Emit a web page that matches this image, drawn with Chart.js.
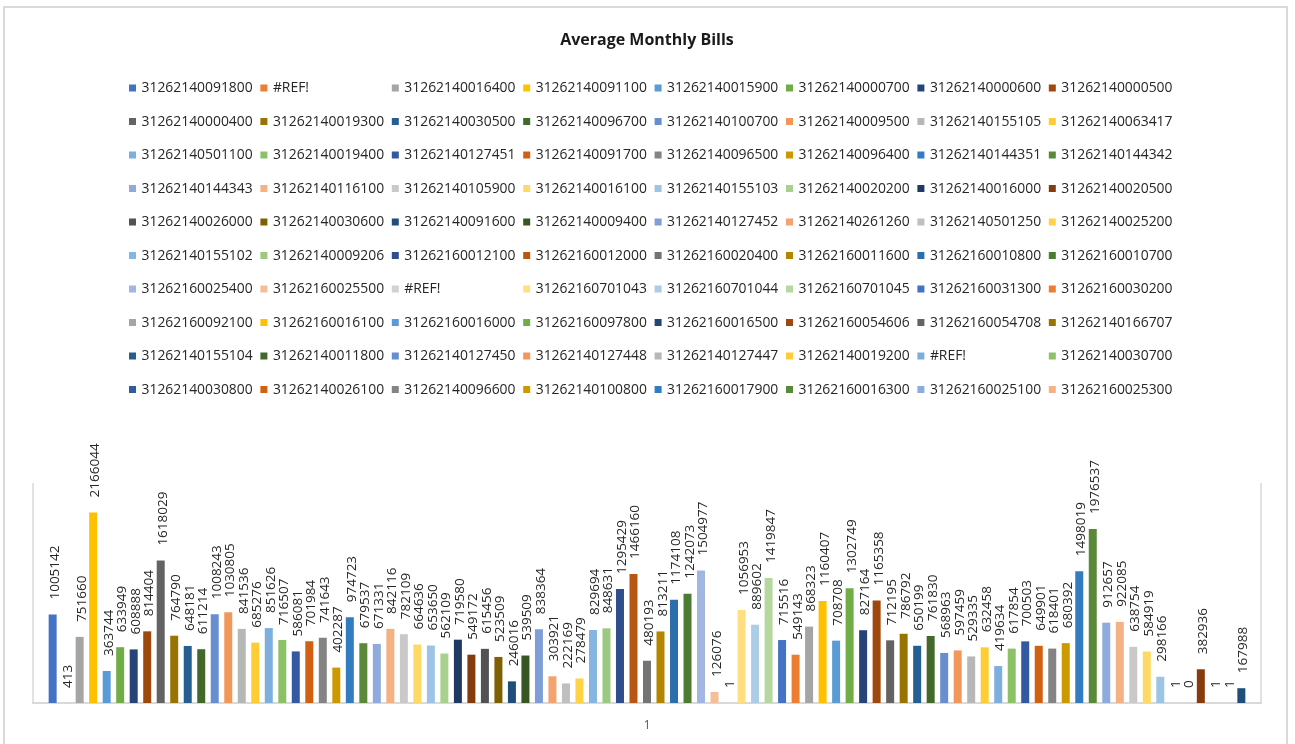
<!DOCTYPE html>
<html>
<head>
<meta charset="utf-8">
<script src="https://cdn.jsdelivr.net/npm/chart.js@4.4.1/dist/chart.umd.min.js"></script>
<style>
  html, body { margin: 0; padding: 0; background: #fff; overflow: hidden; }
  #frame { position: absolute; left: 3px; top: 6px; width: 1285px; height: 760px; border: 2px solid #d9d9d9; box-sizing: border-box; }
  #wrap { position: absolute; left: 0; top: 0; width: 1295px; height: 744px; }
</style>
</head>
<body>
<div id="frame"></div>
<div id="wrap"><canvas id="billsChart"></canvas></div>
<script>
const categories = ['1'];

// legend entries (only the first 80 series fit in the legend)
const seriesNames = [
  '31262140091800', '#REF!', '31262140016400', '31262140091100', '31262140015900', '31262140000700', '31262140000600', '31262140000500',
  '31262140000400', '31262140019300', '31262140030500', '31262140096700', '31262140100700', '31262140009500', '31262140155105', '31262140063417',
  '31262140501100', '31262140019400', '31262140127451', '31262140091700', '31262140096500', '31262140096400', '31262140144351', '31262140144342',
  '31262140144343', '31262140116100', '31262140105900', '31262140016100', '31262140155103', '31262140020200', '31262140016000', '31262140020500',
  '31262140026000', '31262140030600', '31262140091600', '31262140009400', '31262140127452', '31262140261260', '31262140501250', '31262140025200',
  '31262140155102', '31262140009206', '31262160012100', '31262160012000', '31262160020400', '31262160011600', '31262160010800', '31262160010700',
  '31262160025400', '31262160025500', '#REF!', '31262160701043', '31262160701044', '31262160701045', '31262160031300', '31262160030200',
  '31262160092100', '31262160016100', '31262160016000', '31262160097800', '31262160016500', '31262160054606', '31262160054708', '31262140166707',
  '31262140155104', '31262140011800', '31262140127450', '31262140127448', '31262140127447', '31262140019200', '#REF!', '31262140030700',
  '31262140030800', '31262140026100', '31262140096600', '31262140100800', '31262160017900', '31262160016300', '31262160025100', '31262160025300'
];

const seriesValues = [
  1005142, 413, 751660, 2166044, 363744, 633949, 608888, 814404, 1618029, 764790,
  648181, 611214, 1008243, 1030805, 841536, 685276, 851626, 716507, 586081, 701984,
  741643, 402287, 974723, 679537, 671331, 842116, 782109, 664636, 653650, 562109,
  719580, 549172, 615456, 523509, 246016, 539509, 838364, 303921, 222169, 278479,
  829694, 848631, 1295429, 1466160, 480193, 813211, 1174108, 1242073, 1504977, 126076,
  1, 1056953, 889602, 1419847, 715516, 549143, 868323, 1160407, 708708, 1302749,
  827164, 1165358, 712195, 786792, 650199, 761830, 568963, 597459, 529335, 632458,
  419634, 617854, 700503, 649901, 618401, 680392, 1498019, 1976537, 912657, 922085,
  638754, 584919, 298166, 1, 0, 382936, 1, 1, 167988
];

// office series palette, repeats after 54
const palette = [
  '#4472C4', '#ED7D31', '#A5A5A5', '#FFC000', '#5B9BD5', '#70AD47',
  '#264478', '#9E480E', '#636363', '#997300', '#255E91', '#43682B',
  '#698ED0', '#F1975A', '#B7B7B7', '#FFCD33', '#7CAFDD', '#8CC168',
  '#335AA1', '#D26012', '#848484', '#CC9A00', '#327DC2', '#5A8A39',
  '#8FAADC', '#F4B183', '#C9C9C9', '#FFD966', '#9DC3E6', '#A9D18E',
  '#203864', '#843C0C', '#525252', '#7F6000', '#1F4E79', '#375623',
  '#7F9ED8', '#F3A36F', '#BFBFBF', '#FFD345', '#85B5E3', '#9BC97F',
  '#2E4E8C', '#B85613', '#747474', '#B38600', '#2C6EAB', '#4E7B32',
  '#A3B6E2', '#F6BE98', '#D2D2D2', '#FFDF80', '#ADCCEA', '#B5D8A0'
];

const FONT = "'Open Sans', 'Noto Sans', sans-serif";

// grid legend like the spreadsheet one
const gridLegend = {
  id: 'gridLegend',
  afterDraw(chart) {
    const { ctx } = chart;
    const left = 129, top = 88, colW = 131.4, rowH = 33.5, box = 7;
    ctx.save();
    ctx.font = "13.9px " + FONT;
    ctx.textBaseline = 'middle';
    ctx.textAlign = 'left';
    seriesNames.forEach((name, i) => {
      const x = left + (i % 8) * colW;
      const y = top + Math.floor(i / 8) * rowH;
      ctx.fillStyle = chart.data.datasets[i].backgroundColor;
      ctx.fillRect(x, y - box / 2, box, box);
      ctx.fillStyle = '#262626';
      ctx.fillText(name, x + 12.5, y + 0.5);
    });
    ctx.restore();
  }
};

// vertical value labels + side lines of the plot area
const barLabels = {
  id: 'barLabels',
  beforeDatasetsDraw(chart) {
    const { ctx, chartArea } = chart;
    ctx.save();
    ctx.strokeStyle = '#D9D9D9';
    ctx.lineWidth = 1.5;
    ctx.beginPath();
    ctx.moveTo(chartArea.left, chartArea.top);
    ctx.lineTo(chartArea.left, chartArea.bottom);
    ctx.moveTo(chartArea.right, chartArea.top);
    ctx.lineTo(chartArea.right, chartArea.bottom);
    ctx.stroke();
    ctx.restore();
  },
  afterDatasetsDraw(chart) {
    const { ctx } = chart;
    ctx.save();
    ctx.font = "13.5px " + FONT;
    ctx.fillStyle = '#262626';
    ctx.textAlign = 'left';
    ctx.textBaseline = 'alphabetic';
    chart.data.datasets.forEach((ds, i) => {
      const bar = chart.getDatasetMeta(i).data[0];
      if (!bar) return;
      ctx.translate(bar.x, bar.y - 15);
      ctx.rotate(-Math.PI / 2);
      ctx.fillText(String(ds.data[0]), 0, 6);
      ctx.setTransform(1, 0, 0, 1, 0, 0);
      ctx.scale(chart.currentDevicePixelRatio, chart.currentDevicePixelRatio);
    });
    ctx.restore();
  }
};

new Chart(document.getElementById('billsChart'), {
  type: 'bar',
  data: {
    labels: categories,
    datasets: seriesValues.map((v, i) => ({
      label: seriesNames[i] || '',
      data: [v],
      backgroundColor: palette[i % palette.length],
      borderWidth: 0,
      categoryPercentage: 0.979,
      barPercentage: 0.592
    }))
  },
  options: {
    responsive: true,
    maintainAspectRatio: false,
    animation: false,
    layout: { padding: { left: 33, right: 34, top: 0, bottom: -4 } },
    plugins: {
      legend: { display: false },
      tooltip: { enabled: false },
      title: {
        display: true,
        text: 'Average Monthly Bills',
        color: '#1a1a1a',
        font: { family: FONT, size: 16, weight: 'bold' },
        padding: { top: 31, bottom: 432.8 }
      }
    },
    scales: {
      x: {
        grid: { display: false, drawTicks: false },
        border: { display: true, color: '#D9D9D9', width: 2 },
        ticks: { color: '#595959', font: { family: FONT, size: 12.5 }, padding: 15 }
      },
      y: { display: false, min: 0, max: 2500000 }
    }
  },
  plugins: [gridLegend, barLabels]
});
</script>
</body>
</html>
